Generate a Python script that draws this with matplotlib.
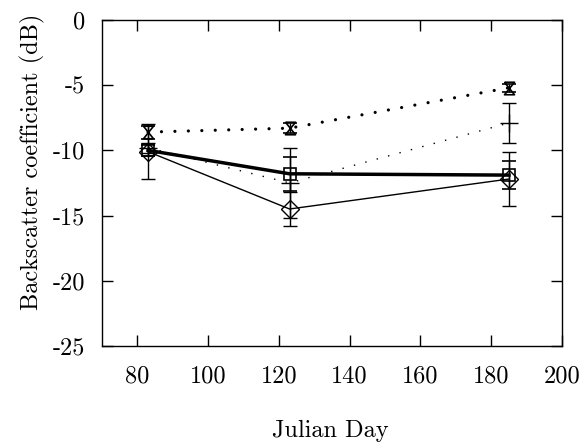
import matplotlib
matplotlib.use("Agg")
import matplotlib.pyplot as plt

plt.rcParams['font.family'] = ['cmr10', 'DejaVu Serif']
plt.rcParams['axes.unicode_minus'] = False
plt.rcParams['mathtext.fontset'] = 'cm'

days = [83, 123, 185]
s_bowtie = [-8.6, -8.3, -5.2]
e_bowtie = [0.5, 0.4, 0.3]
s_plus = [-9.8, -12.5, -7.9]
e_plus = [0.4, 2.7, 1.55]
s_square = [-10.0, -11.8, -11.9]
e_square = [0.4, 1.3, 1.1]
s_diamond = [-10.1, -14.5, -12.2]
e_diamond = [2.1, 1.3, 2.1]

xticks = [80, 100, 120, 140, 160, 180, 200]
yticks = [0, -5, -10, -15, -20, -25]

fig = plt.figure(figsize=(5.83, 4.44), dpi=100)
ax = fig.add_axes([0.175, 0.221, 0.789, 0.734])

bowtie = [(-0.8, 1), (0.8, 1), (-0.8, -1), (0.8, -1), (-0.8, 1)]
kw = dict(color='black', ecolor='black', elinewidth=1.0, capsize=5, capthick=1.0)

ax.errorbar(days, s_bowtie, yerr=e_bowtie, linestyle=(0, (0.01, 4.2)), linewidth=2.3,
            dash_capstyle='round', marker=bowtie, markersize=9, mfc='none', mew=1.2, **kw)
ax.errorbar(days, s_plus, yerr=e_plus, linestyle=(0, (1, 7.5)), linewidth=1.0,
            marker='+', markersize=13, mew=1.0, **kw)
ax.errorbar(days, s_square, yerr=e_square, linestyle='-', linewidth=2.5,
            marker='s', markersize=8.5, mfc='none', mew=1.2, **kw)
ax.errorbar(days, s_diamond, yerr=e_diamond, linestyle='-', linewidth=1.0,
            marker='D', markersize=9.5, mfc='none', mew=1.0, **kw)

ax.set_xlim(70, 200)
ax.set_ylim(-25, 0)
ax.set_xticks(xticks)
ax.set_yticks(yticks)
ax.set_xticklabels([str(v) for v in xticks])
ax.set_yticklabels([str(v) for v in yticks])
ax.tick_params(direction='in', top=True, right=True, length=8, width=1.0,
               labelsize=17.5, pad=14)
ax.tick_params(axis='y', pad=12)
for sp in ax.spines.values():
    sp.set_linewidth(1.0)

ax.set_xlabel('Julian Day', fontsize=17.5, va='center')
ax.set_ylabel('Backscatter coefficient (dB)', fontsize=17.5, va='center')
ax.xaxis.set_label_coords(0.496, -0.262)
ax.yaxis.set_label_coords(-0.152, 0.564)

fig.savefig('out.png', dpi=100)
